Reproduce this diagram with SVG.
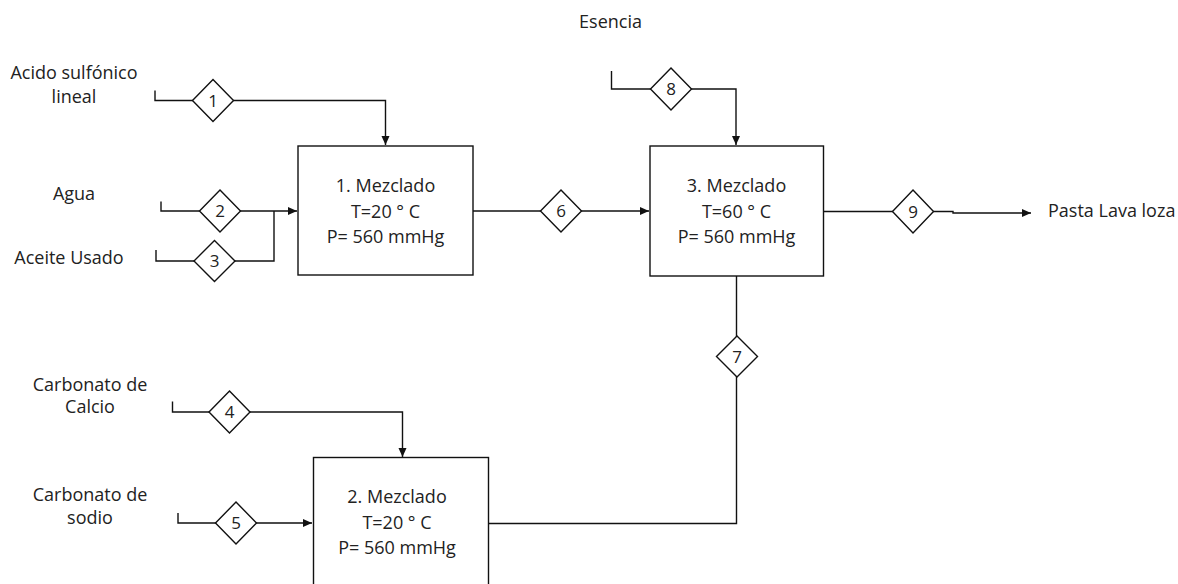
<svg xmlns="http://www.w3.org/2000/svg" width="1178" height="584" viewBox="0 0 1178 584">
<style>
text{font-family:"Open Sans","Liberation Sans",sans-serif;font-size:18px;fill:#222;}
.c{text-anchor:middle;}
.n{font-size:17px;text-anchor:middle;}
.box{fill:#fff;stroke:#111;stroke-width:1.4;}
.dia{fill:#fff;stroke:#111;stroke-width:1.4;}
.ln{fill:none;stroke:#111;stroke-width:1.4;}
</style>
<defs>
<marker id="ah" markerWidth="10" markerHeight="10" refX="9" refY="5" orient="auto" markerUnits="userSpaceOnUse">
<path d="M0,1 L9,5 L0,9 Z" fill="#111"/>
</marker>
</defs>
<rect width="1178" height="584" fill="#fff"/>
<g id="connectors">
<path class="ln" d="M155,90.5 V100.5 H385.5 V145" marker-end="url(#ah)"/>
<path class="ln" d="M161,201.5 V211 H297" marker-end="url(#ah)"/>
<path class="ln" d="M156,250 V261 H274 V211"/>
<path class="ln" d="M473,211 H649" marker-end="url(#ah)"/>
<path class="ln" d="M611.5,71 V89 H736 V145" marker-end="url(#ah)"/>
<path class="ln" d="M823.5,211.5 H953 V213 H1031" marker-end="url(#ah)"/>
<path class="ln" d="M736.5,276 V523.5 H488"/>
<path class="ln" d="M172.5,401.5 V412 H402.5 V457" marker-end="url(#ah)"/>
<path class="ln" d="M178,513 V523 H312" marker-end="url(#ah)"/>
</g>
<g id="box1"><rect class="box" x="298" y="146" width="175" height="129"/>
<text class="c" x="385.5" y="192">1. Mezclado</text><text class="c" x="385.5" y="217.5">T=20 ° C</text><text class="c" x="385.5" y="243">P= 560 mmHg</text></g>
<g id="box3"><rect class="box" x="650" y="146" width="173.5" height="130"/>
<text class="c" x="736.5" y="192">3. Mezclado</text><text class="c" x="736.5" y="217.5">T=60 ° C</text><text class="c" x="736.5" y="243">P= 560 mmHg</text></g>
<g id="box2"><rect class="box" x="313.5" y="457.5" width="175" height="140"/>
<text class="c" x="397" y="503">2. Mezclado</text><text class="c" x="397" y="528.5">T=20 ° C</text><text class="c" x="397" y="554">P= 560 mmHg</text></g>
<g id="s1"><path class="dia" d="M213,79.5 L233.5,100.5 L213,121.5 L192.5,100.5 Z"/><text class="n" x="213" y="106.5">1</text></g>
<g id="s2"><path class="dia" d="M220,190 L240.5,211 L220,232 L199.5,211 Z"/><text class="n" x="220" y="217">2</text></g>
<g id="s3"><path class="dia" d="M214.5,240.5 L235,261 L214.5,281.5 L194,261 Z"/><text class="n" x="214.5" y="267">3</text></g>
<g id="s4"><path class="dia" d="M229.5,391 L250,412 L229.5,433 L209,412 Z"/><text class="n" x="229.5" y="418">4</text></g>
<g id="s5"><path class="dia" d="M236,502 L256.5,523 L236,544 L215.5,523 Z"/><text class="n" x="236" y="529">5</text></g>
<g id="s6"><path class="dia" d="M561,190 L581.5,211 L561,232 L540.5,211 Z"/><text class="n" x="561" y="217">6</text></g>
<g id="s7"><path class="dia" d="M737,336 L757.5,356.5 L737,377 L716.5,356.5 Z"/><text class="n" x="737" y="362.5">7</text></g>
<g id="s8"><path class="dia" d="M671,68 L691.5,89 L671,110 L650.5,89 Z"/><text class="n" x="671" y="95">8</text></g>
<g id="s9"><path class="dia" d="M913,190 L933.5,211.5 L913,233 L892.5,211.5 Z"/><text class="n" x="913" y="217.5">9</text></g>
<g id="labels">
<text class="c" x="74" y="79">Acido sulfónico</text><text class="c" x="74" y="103">lineal</text>
<text class="c" x="74" y="200">Agua</text>
<text class="c" x="69" y="264">Aceite Usado</text>
<text class="c" x="90" y="391">Carbonato de</text><text class="c" x="90" y="413">Calcio</text>
<text class="c" x="90" y="501">Carbonato de</text><text class="c" x="90" y="524">sodio</text>
<text class="c" x="610.5" y="28">Esencia</text>
<text x="1048" y="216.5">Pasta Lava loza</text>
</g>
</svg>
